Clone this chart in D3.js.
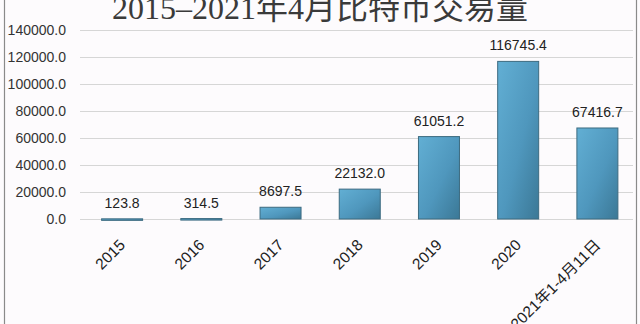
<!DOCTYPE html>
<html>
<head>
<meta charset="utf-8">
<script src="https://cdn.jsdelivr.net/npm/d3@7"></script>
<style>
  html, body { margin: 0; padding: 0; background: #fdfbfd; }
  svg { display: block; }
</style>
</head>
<body>
<svg id="chart" width="640" height="324"></svg>
<script>
// Bitcoin trading volume by year
const categories = ["2015", "2016", "2017", "2018", "2019", "2020", "2021年1-4月11日"];
const volumes = [123.8, 314.5, 8697.5, 22132.0, 61051.2, 116745.4, 67416.7];
const yTicks = [0, 20000, 40000, 60000, 80000, 100000, 120000, 140000];
const titleText = "2015–2021年4月比特币交易量";

const svg = d3.select("#chart");
const W = 640, H = 324;

// frame
svg.append("line").attr("x1", 4.5).attr("x2", 4.5).attr("y1", 0).attr("y2", H)
  .attr("stroke", "#8a8a8a").attr("stroke-width", 1.2);
svg.append("line").attr("x1", 636.5).attr("x2", 636.5).attr("y1", 0).attr("y2", H)
  .attr("stroke", "#8a8a8a").attr("stroke-width", 1.2);

const x = d3.scaleBand().domain(categories).range([82.5, 637]).paddingInner(0.48).paddingOuter(0.24);
const y = d3.scaleLinear().domain([0, 140000]).range([219, 30]);

// gradient for bars
const defs = svg.append("defs");
const grad = defs.append("linearGradient").attr("id", "barGrad")
  .attr("x1", "0").attr("y1", "0").attr("x2", "1").attr("y2", "1");
grad.append("stop").attr("offset", "0%").attr("stop-color", "#62afd4");
grad.append("stop").attr("offset", "55%").attr("stop-color", "#4f97bd");
grad.append("stop").attr("offset", "100%").attr("stop-color", "#3b7896");

// grid + y labels
const yAxis = d3.axisLeft(y).tickValues(yTicks).tickFormat(d => d3.format(".1f")(d))
  .tickSize(-(633 - 80)).tickPadding(14);
const gy = svg.append("g").attr("transform", "translate(80,0)").call(yAxis);
gy.select(".domain").remove();
gy.selectAll(".tick line").attr("stroke", "#d6d6d6").attr("stroke-width", 1);
gy.selectAll(".tick text")
  .attr("font-family", "'Liberation Sans', Arial, sans-serif")
  .attr("font-size", 14).attr("fill", "#333");

// bars
const bw = 41;
svg.append("g").selectAll("rect").data(categories).join("rect")
  .attr("x", (d) => x(d) + x.bandwidth() / 2 - bw / 2)
  .attr("y", (d, i) => y(volumes[i]))
  .attr("width", bw)
  .attr("height", (d, i) => Math.max(1.5, y(0) - y(volumes[i])))
  .attr("fill", "url(#barGrad)")
  .attr("stroke", "#3d6b80").attr("stroke-width", 1);

// value labels
svg.append("g").selectAll("text").data(categories).join("text")
  .attr("x", d => x(d) + x.bandwidth() / 2)
  .attr("y", (d, i) => y(volumes[i]) - 11)
  .attr("text-anchor", "middle")
  .attr("font-family", "'Liberation Sans', Arial, sans-serif")
  .attr("font-size", 14).attr("fill", "#222")
  .text((d, i) => d3.format(".1f")(volumes[i]));

// x labels, rotated
const xAxis = d3.axisBottom(x).tickSize(0).tickPadding(0);
const gx = svg.append("g").attr("transform", "translate(0,219)").call(xAxis);
gx.select(".domain").remove();
gx.selectAll(".tick text")
  .attr("font-family", "'Liberation Sans', 'Noto Sans CJK SC', Arial, sans-serif")
  .attr("font-size", 15.5).attr("fill", "#1e1e1e")
  .attr("text-anchor", "end")
  .attr("dy", null).attr("y", 0)
  .attr("transform", "translate(4,27) rotate(-45)");

// title
svg.append("text").attr("x", 320).attr("y", 19).attr("text-anchor", "middle")
  .attr("font-family", "'Liberation Serif', 'DejaVu Serif', 'Noto Sans CJK SC', serif")
  .attr("font-size", 32).attr("fill", "#3a3a3a")
  .text(titleText);
</script>
</body>
</html>
